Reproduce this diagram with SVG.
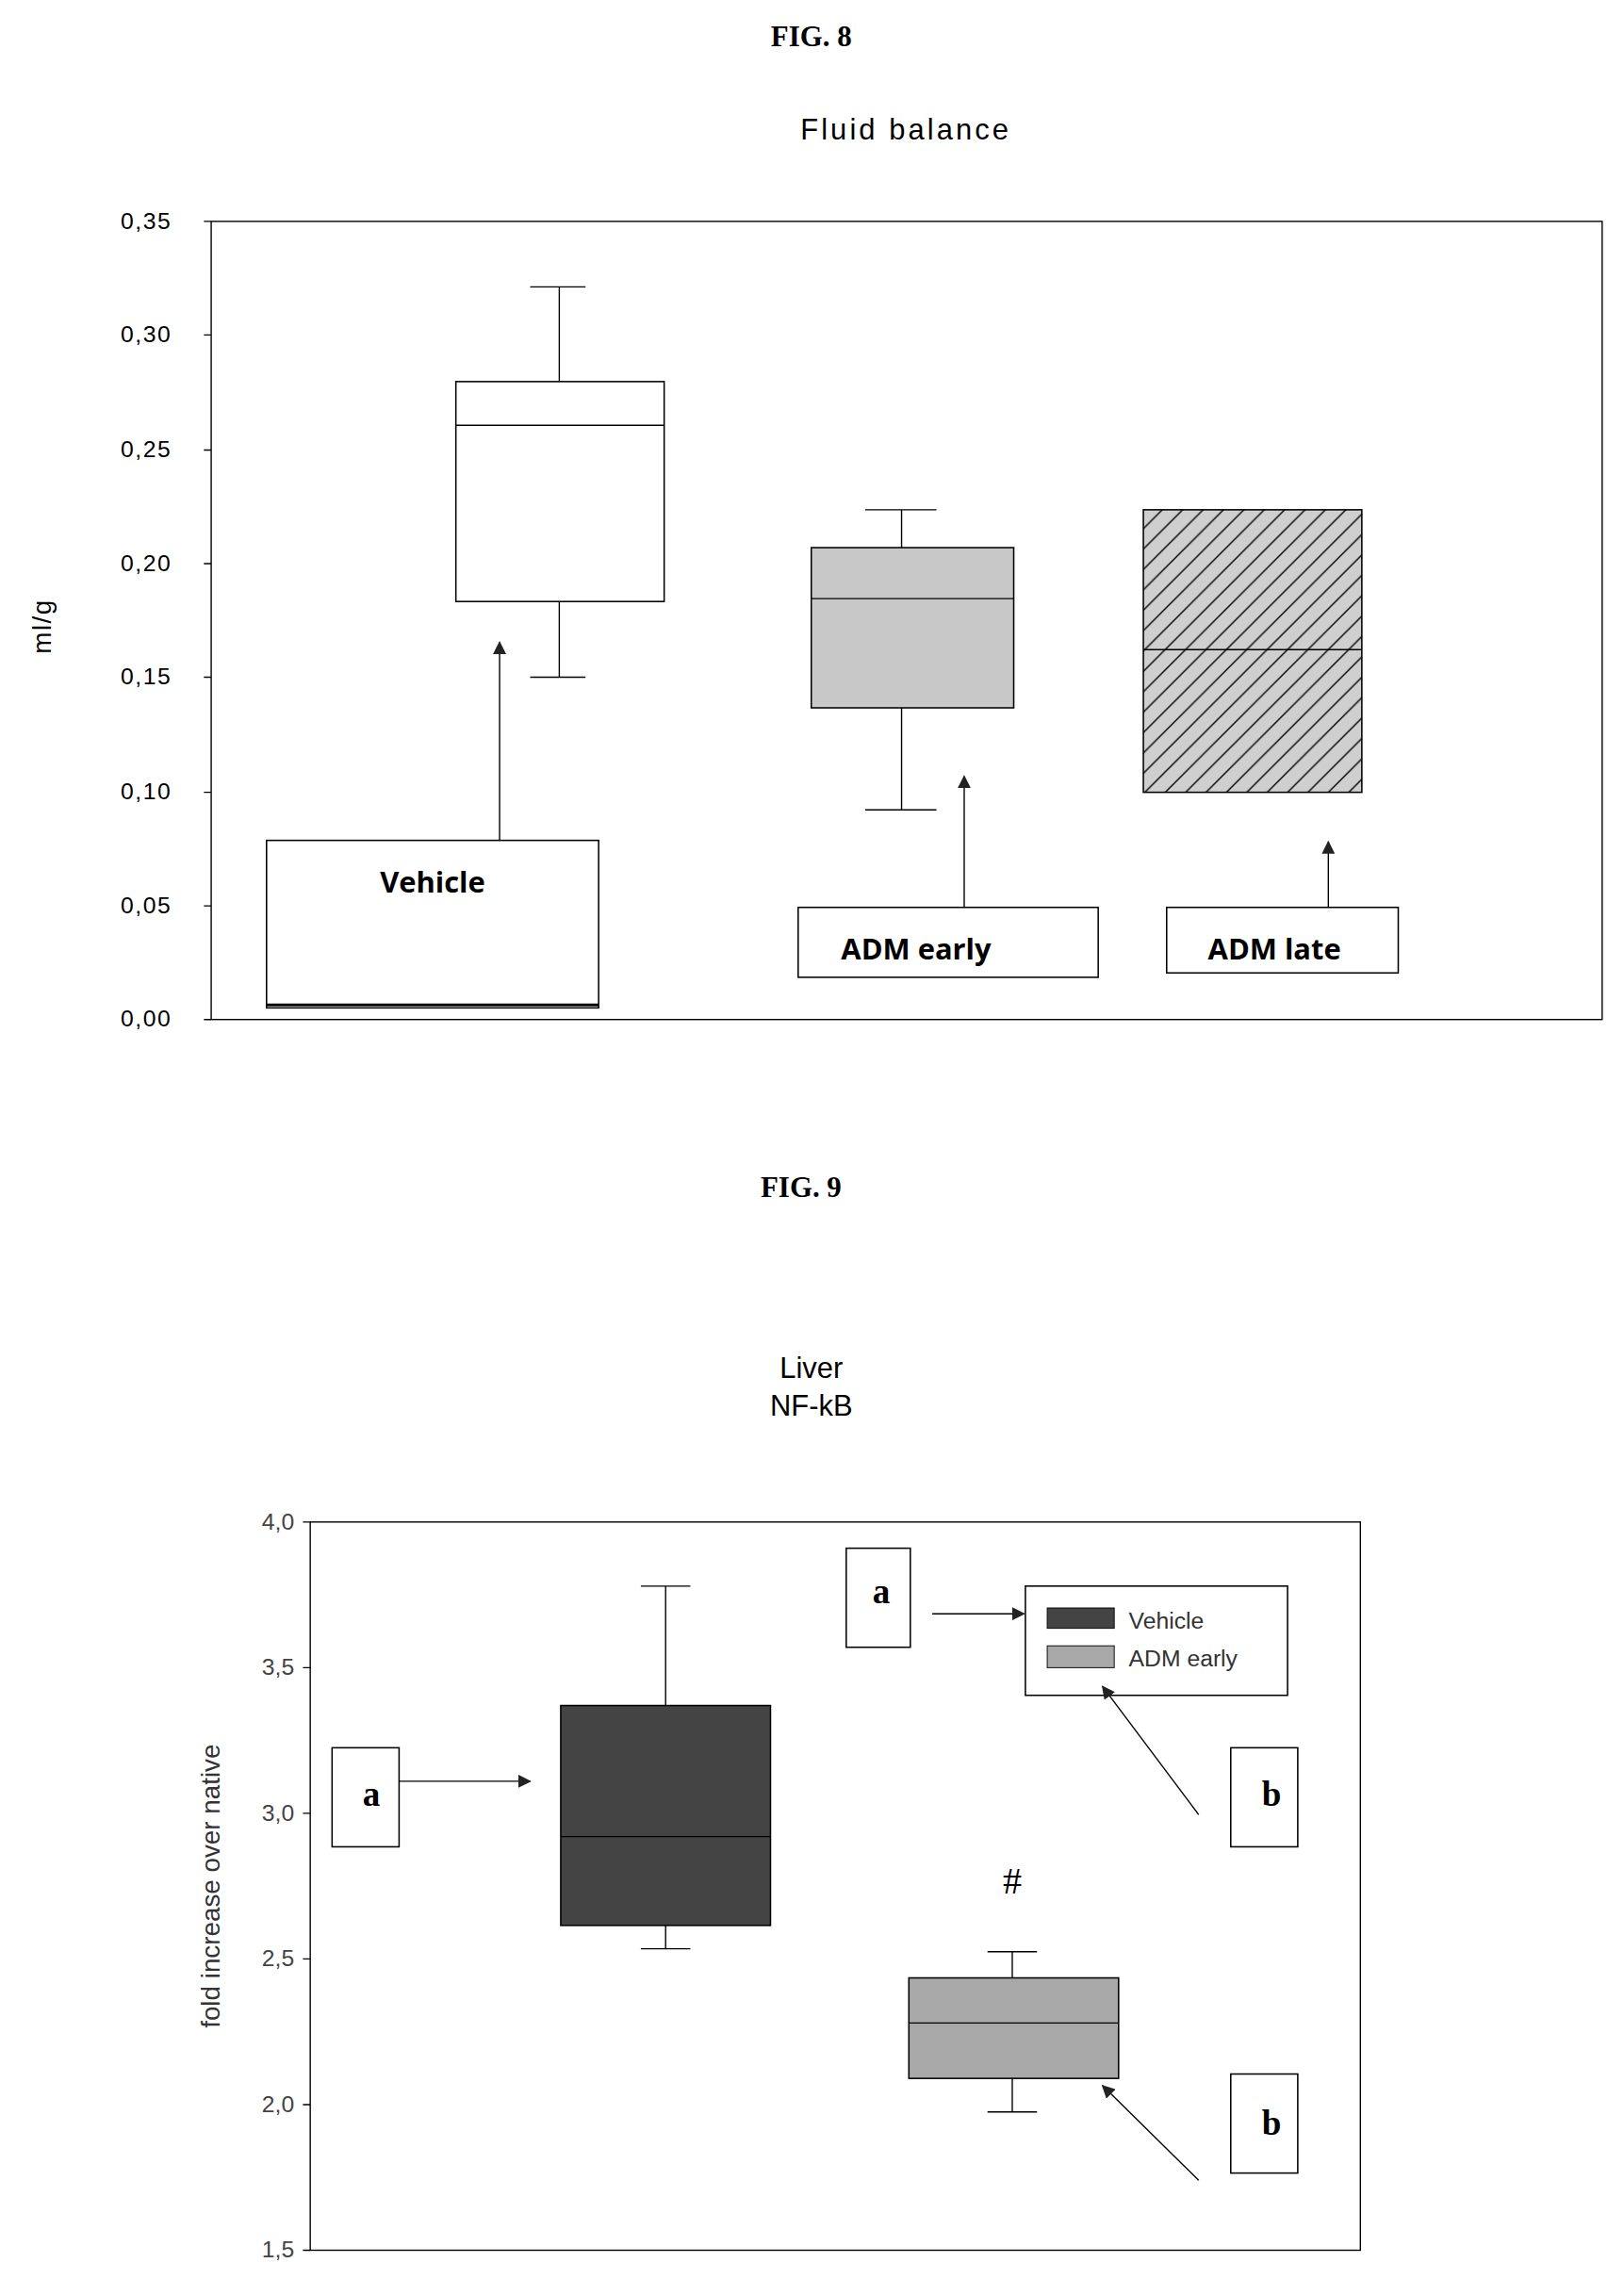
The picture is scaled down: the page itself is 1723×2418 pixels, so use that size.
<svg xmlns="http://www.w3.org/2000/svg" width="1723" height="2418" viewBox="0 0 1723 2418">
<style>
.ln{stroke:#000;stroke-width:0.9;fill:none}
.bx{stroke:#000;stroke-width:1;fill:#fff}
.tk{font-family:"Liberation Sans",Arial,sans-serif;font-size:16px;fill:#000;letter-spacing:1px}
.fig{font-family:"Liberation Serif","Times New Roman",serif;font-weight:bold;font-size:20px;text-anchor:middle}
.ttl{font-family:"Liberation Sans",Arial,sans-serif;font-size:20px;text-anchor:middle}
.lab{font-family:"Open Sans","Liberation Sans",sans-serif;font-weight:bold;font-size:20px;text-anchor:middle}
.ab{font-family:"Liberation Serif","Times New Roman",serif;font-weight:bold;font-size:24px;text-anchor:middle}
</style>
<defs>
<marker id="ah" viewBox="0 0 10 10" refX="9" refY="5" markerWidth="9" markerHeight="9" markerUnits="userSpaceOnUse" orient="auto"><path d="M0,0 L10,5 L0,10 z" fill="#222"/></marker>
<pattern id="hatch" width="14" height="14" patternUnits="userSpaceOnUse"><rect width="14" height="14" fill="#cfcfcf"/><path d="M-2,16 L16,-2" stroke="#000" stroke-width="0.9"/><path d="M-2,2 L2,-2 M12,16 L16,12" stroke="#000" stroke-width="0.9"/></pattern>
</defs>
<rect width="1723" height="2418" fill="#fff"/>
<g transform="scale(1.5453)">
<text class="fig" x="557" y="32">FIG. 8</text>
<g id="fig8-axes">
<text class="ttl" x="622" y="96" style="letter-spacing:2px">Fluid balance</text>
<rect class="ln" x="145" y="152" width="955" height="548"/>
<path class="ln" d="M140,152H145M140,230H145M140,309H145M140,387H145M140,465H145M140,544H145M140,622H145M140,700H145"/>
<g class="tk" text-anchor="end">
<text x="118" y="157">0,35</text><text x="118" y="235">0,30</text><text x="118" y="314">0,25</text><text x="118" y="392">0,20</text><text x="118" y="470">0,15</text><text x="118" y="549">0,10</text><text x="118" y="627">0,05</text><text x="118" y="705">0,00</text>
</g>
<text class="tk" transform="translate(35,430) rotate(-90)" text-anchor="middle" style="font-size:18px">ml/g</text>
</g>
<g id="vehicle8">
<path class="ln" d="M384,197V262M364,197H402M384,413V465M364,465H402"/>
<rect class="bx" x="313" y="262" width="143" height="151"/>
<path class="ln" d="M313,292H456"/>
</g>
<g id="admearly8">
<path class="ln" d="M619,350V376M594,350H643M619,486V556M594,556H643"/>
<rect x="557" y="376" width="139" height="110" fill="#c8c8c8" stroke="#000"/>
<path class="ln" d="M557,411H696"/>
</g>
<g id="admlate8">
<rect x="785" y="350" width="150" height="194" fill="url(#hatch)" stroke="#000"/>
<path class="ln" d="M785,446H935"/>
</g>
<g id="lbl-vehicle"><rect class="bx" x="183" y="577" width="228" height="115"/><path d="M183,690H411" stroke="#000" stroke-width="2"/><text class="lab" x="297" y="613">Vehicle</text></g>
<g id="lbl-early"><rect class="bx" x="548" y="623" width="206" height="48"/><text class="lab" x="629" y="659">ADM early</text></g>
<g id="lbl-late"><rect class="bx" x="801" y="623" width="159" height="45"/><text class="lab" x="875" y="659">ADM late</text></g>
<g id="connectors8">
<path class="ln" d="M343,577V441" marker-end="url(#ah)"/>
<path class="ln" d="M662,623V533" marker-end="url(#ah)"/>
<path class="ln" d="M912,623V578" marker-end="url(#ah)"/>
</g>

<text class="fig" x="550" y="822">FIG. 9</text>
<g id="fig9-axes">
<text class="ttl" x="557" y="946">Liver</text>
<text class="ttl" x="557" y="972">NF-kB</text>
<rect class="ln" x="213" y="1045" width="721" height="500"/>
<path class="ln" d="M208,1045H213M208,1145H213M208,1245H213M208,1345H213M208,1445H213M208,1545H213"/>
<g class="tk" text-anchor="end" style="letter-spacing:0;fill:#444">
<text x="202" y="1050">4,0</text><text x="202" y="1150">3,5</text><text x="202" y="1250">3,0</text><text x="202" y="1350">2,5</text><text x="202" y="1450">2,0</text><text x="202" y="1550">1,5</text>
</g>
<text class="tk" transform="translate(151,1295) rotate(-90)" text-anchor="middle" style="font-size:18px;letter-spacing:0;fill:#333">fold increase over native</text>
</g>
<g id="vehicle9">
<path class="ln" d="M457,1089V1171M440,1089H474M457,1322V1338M440,1338H474"/>
<rect x="385" y="1171" width="144" height="151" fill="#444" stroke="#000"/>
<path class="ln" d="M385,1261H529"/>
</g>
<g id="admearly9">
<path class="ln" d="M695,1340V1358M678,1340H712M695,1427V1450M678,1450H712"/>
<rect x="624" y="1358" width="144" height="69" fill="#a8a8a8" stroke="#000"/>
<path class="ln" d="M624,1389H768"/>
</g>
<text x="695" y="1300" text-anchor="middle" style="font-family:'Liberation Serif',serif;font-size:26px">#</text>
<g id="legend">
<rect class="bx" x="704" y="1089" width="180" height="75"/>
<rect x="719" y="1104" width="46" height="14" fill="#444" stroke="#000" stroke-width="0.6"/>
<rect x="719" y="1130" width="46" height="15" fill="#a8a8a8" stroke="#000" stroke-width="0.6"/>
<text x="775" y="1118" style="font-family:'Liberation Sans',sans-serif;font-size:16px;fill:#333">Vehicle</text>
<text x="775" y="1144" style="font-family:'Liberation Sans',sans-serif;font-size:16px;fill:#333">ADM early</text>
</g>
<g id="box-a1"><rect class="bx" x="228" y="1200" width="46" height="68"/><text class="ab" x="255" y="1240">a</text></g>
<g id="box-a2"><rect class="bx" x="581" y="1063" width="44" height="68"/><text class="ab" x="605" y="1101">a</text></g>
<g id="box-b1"><rect class="bx" x="845" y="1200" width="46" height="68"/><text class="ab" x="873" y="1240">b</text></g>
<g id="box-b2"><rect class="bx" x="845" y="1424" width="46" height="68"/><text class="ab" x="873" y="1466">b</text></g>
<g id="connectors9">
<path class="ln" d="M274,1223H364" marker-end="url(#ah)"/>
<path class="ln" d="M640,1108H703" marker-end="url(#ah)"/>
<path class="ln" d="M823,1246L757,1158" marker-end="url(#ah)"/>
<path class="ln" d="M823,1497L757,1432" marker-end="url(#ah)"/>
</g>
</g>
</svg>
